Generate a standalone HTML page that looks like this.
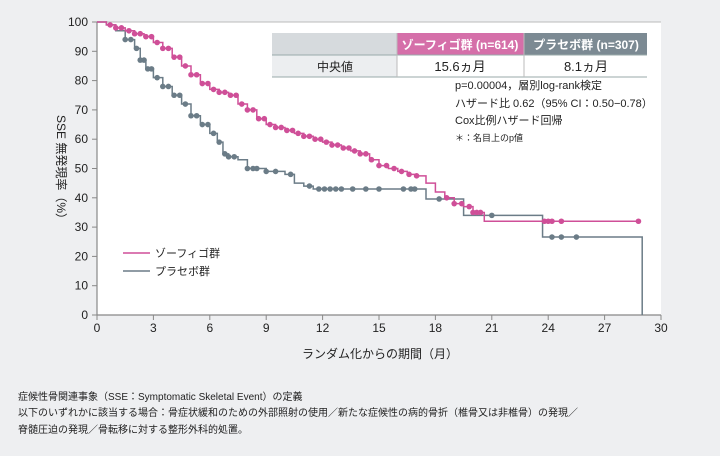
<!DOCTYPE html>
<html><head><meta charset="utf-8">
<style>
body{margin:0;background:#eeeff1;}
#wrap{position:relative;width:720px;height:456px;background:#eeeff1;font-family:"Liberation Sans","Noto Sans CJK JP",sans-serif;color:#222;overflow:hidden}
svg text{font-family:"Liberation Sans","Noto Sans CJK JP",sans-serif}
.fn{position:absolute;left:18px;font-size:10px;color:#222;white-space:nowrap}
</style></head>
<body>
<div id="wrap">
<svg id="chart" width="720" height="456"></svg>
<div class="fn" style="top:388px">症候性骨関連事象（SSE：Symptomatic Skeletal Event）の定義</div>
<div class="fn" style="top:404px">以下のいずれかに該当する場合：骨症状緩和のための外部照射の使用／新たな症候性の病的骨折（椎骨又は非椎骨）の発現／</div>
<div class="fn" style="top:421px">脊髄圧迫の発現／骨転移に対する整形外科的処置。</div>
</div>
<script>
const xTicks=[0,3,6,9,12,15,18,21,24,27,30];
const yTicks=[0,10,20,30,40,50,60,70,80,90,100];
const xofigoTimes=[0,0.5,1,1.5,2,2.5,3,3.5,4,4.5,5,5.5,6,6.5,7,7.5,8,8.5,9,9.5,10,10.5,11,11.5,12,12.5,13,13.5,14,14.5,15,15.5,16,16.5,17,17.5,18,18.5,19,19.5,20,20.6,28.8];
const xofigoSurv=[100,99,98,97,96,95,93,91,88,85,82,79,77,76,75,72,70,67,65,64,63,62,61,60,59,58,57,56,55,53,51,50,49,48,47.5,45,42,40,38,37,35,32,32];
const xofigoCensor=[0.7,1,1.3,1.7,2,2.3,2.6,2.9,3.2,3.5,3.8,4.1,4.4,4.7,5,5.3,5.6,5.9,6.2,6.5,6.8,7.1,7.4,7.7,8,8.3,8.6,8.9,9.2,9.5,9.8,10.1,10.4,10.7,11,11.3,11.6,11.9,12.2,12.5,12.8,13.1,13.4,13.7,14,14.3,14.6,15,15.4,15.8,16.2,16.6,17,18.6,19,19.4,19.8,20,20.2,20.4,23.8,24,24.2,24.7,28.8];
const placeboTimes=[0,0.5,1,1.5,2,2.3,2.6,3,3.5,4,4.5,5,5.5,6,6.4,6.7,7,7.5,8,9,10,10.5,11,11.5,17.5,19.5,23.7,29];
const placeboSurv=[100,99,97,94,91,87,84,81,78,75,72,68,65,62,59,55,54,53,50,49,48,45,44,43,39.6,34,26.6,0];
const placeboCensor=[1.5,1.8,2.1,2.3,2.5,2.7,2.9,3.2,3.5,3.8,4.1,4.4,4.7,5,5.3,5.6,5.9,6.2,6.5,6.8,7,7.3,8,8.3,8.5,9,9.5,10.3,11.3,11.8,12.1,12.4,12.7,13,13.6,14.3,15,16.3,16.7,16.9,18.2,21,24.2,24.7,25.5];

const X0=97,X1=661,Y0=315,Y1=22;
const xs=m=>X0+(X1-X0)*m/30;
const ys=v=>Y0-(Y0-Y1)*v/100;
const NS="http://www.w3.org/2000/svg";
const svg=document.getElementById('chart');
function mk(tag,attrs,parent){const e=document.createElementNS(NS,tag);for(const k in attrs)e.setAttribute(k,attrs[k]);(parent||svg).appendChild(e);return e;}

let r=mk('rect',{x:X0,y:Y1,width:X1-X0,height:Y0-Y1,fill:'#fff'});


let ax=mk('path',{d:`M${X0},${Y1}V${Y0}H${X1}`,stroke:'#888',fill:'none','stroke-width':1.2});


mk('line',{x1:X0,y1:Y1,x2:X1,y2:Y1,stroke:'#bbb','stroke-width':1});
xTicks.forEach(t=>{
  mk('line',{x1:xs(t),y1:Y0,x2:xs(t),y2:Y0+5,stroke:'#888'});
  const tx=mk('text',{x:xs(t),y:Y0+17,'text-anchor':'middle','font-size':12,fill:'#222'});tx.textContent=t;
  
  
});
yTicks.forEach(t=>{
  mk('line',{x1:X0-5,y1:ys(t),x2:X0,y2:ys(t),stroke:'#888'});
  const tx=mk('text',{x:X0-9,y:ys(t)+4,'text-anchor':'end','font-size':12,fill:'#222'});tx.textContent=t;
  
  
});
let xl=mk('text',{x:380,y:358,'text-anchor':'middle','font-size':12,fill:'#222'});xl.textContent='ランダム化からの期間（月）';


let yl=mk('text',{x:0,y:0,'text-anchor':'middle','font-size':12,fill:'#222',transform:'translate(57,170) rotate(90)'});yl.textContent='SSE 無発現率（%）';



function survAt(T,S,t){let v=S[0];for(let i=0;i<T.length;i++){if(T[i]<=t)v=S[i];}return v;}
function drawSeries(T,S,C,color,name){
  let d=`M${xs(T[0])},${ys(S[0])}`;
  for(let i=1;i<T.length;i++){d+=`H${xs(T[i])}V${ys(S[i])}`;}
  const p=mk('path',{d:d,stroke:color,fill:'none','stroke-width':1.5});
  
  
  C.forEach(t=>{
    const c=mk('circle',{cx:xs(t),cy:ys(survAt(T,S,t)),r:2.8,fill:color});
    
    
  });
}
drawSeries(placeboTimes,placeboSurv,placeboCensor,'#6b7c87','placebo');
drawSeries(xofigoTimes,xofigoSurv,xofigoCensor,'#cf4f98','xofigo');

let lg1=mk('line',{x1:123,y1:253,x2:150,y2:253,stroke:'#cf4f98','stroke-width':1.5});

let lt1=mk('text',{x:155,y:257,'font-size':11,fill:'#222'});lt1.textContent='ゾーフィゴ群';

let lg2=mk('line',{x1:123,y1:271,x2:150,y2:271,stroke:'#6b7c87','stroke-width':1.5});

let lt2=mk('text',{x:155,y:275,'font-size':11,fill:'#222'});lt2.textContent='プラセボ群';


const tb=mk('g',{});


mk('rect',{x:272,y:33,width:125,height:22,fill:'#d6dadd'},tb);
mk('rect',{x:397,y:33,width:127,height:22,fill:'#d56fa9'},tb);
mk('rect',{x:524,y:33,width:123,height:22,fill:'#7c8a93'},tb);
mk('rect',{x:272,y:55,width:125,height:22,fill:'#eceef0'},tb);
mk('rect',{x:397,y:55,width:250,height:22,fill:'#fff'},tb);
mk('line',{x1:272,y1:55,x2:647,y2:55,stroke:'#9aa'},tb);
mk('line',{x1:272,y1:77,x2:647,y2:77,stroke:'#9aa'},tb);
mk('line',{x1:397,y1:33,x2:397,y2:77,stroke:'#bbb'},tb);
mk('line',{x1:524,y1:33,x2:524,y2:77,stroke:'#bbb'},tb);
[[460,49,'ゾーフィゴ群 (n=614)','#fff',12],[586,49,'プラセボ群 (n=307)','#fff',12],[335,71,'中央値','#222',12],[460,71,'15.6ヵ月','#222',13],[586,71,'8.1ヵ月','#222',13]].forEach(a=>{
  const t=mk('text',{x:a[0],y:a[1],'text-anchor':'middle','font-size':a[4],fill:a[3],'font-weight':a[3]=='#fff'?'bold':'normal'},tb);t.textContent=a[2];
});
[[89,'p=0.00004，層別log-rank検定',11],[107,'ハザード比 0.62（95% CI：0.50−0.78）',11],[124,'Cox比例ハザード回帰',11],[141,'＊：名目上のp値',9]].forEach(a=>{
  const t=mk('text',{x:455,y:a[0],'font-size':a[2],fill:'#222'});t.textContent=a[1];
  
  
});
</script>
</body></html>
